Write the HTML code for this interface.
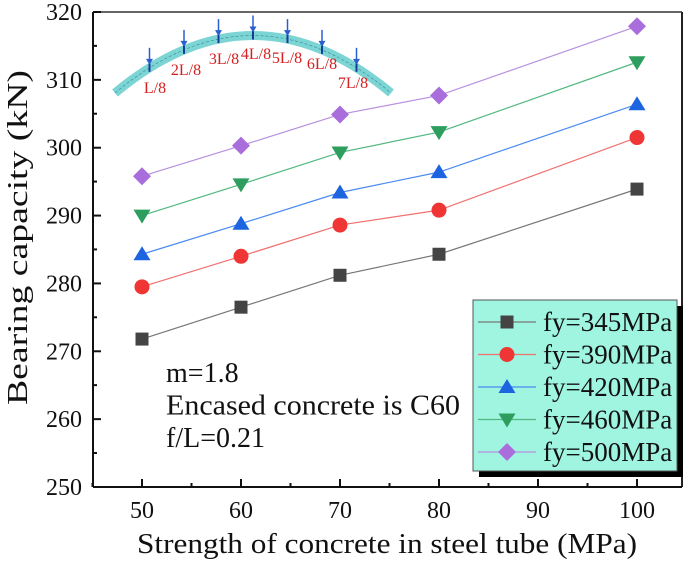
<!DOCTYPE html>
<html><head><meta charset="utf-8"><style>
body{margin:0;background:#fff}
svg text{font-family:"Liberation Serif",serif}
</style></head><body>
<svg id="c" width="685" height="560" xmlns="http://www.w3.org/2000/svg">
<g id="inset">
<path d="M115,93 Q253,-22 391,93" fill="none" stroke="#5cc9c9" stroke-width="9" opacity="0.8"/>
<path d="M115,93 Q253,-22 391,93" fill="none" stroke="#2a8f8f" stroke-width="0.6" stroke-dasharray="3,2"/>
</g>
<g id="plot"></g>
</svg>
<script>
const categories=[50,60,70,80,100];
const s345=[271.8,276.5,281.2,284.3,293.9];
const s390=[279.5,284.0,288.6,290.8,301.5];
const s420=[284.3,288.8,293.4,296.4,306.4];
const s460=[290.0,294.6,299.3,302.3,312.6];
const s500=[295.8,300.3,304.9,307.7,317.9];
const seriesNames=["fy=345MPa","fy=390MPa","fy=420MPa","fy=460MPa","fy=500MPa"];
const xTicks=[50,60,70,80,90,100];
const yTicks=[250,260,270,280,290,300,310,320];
const NS="http://www.w3.org/2000/svg";
const svg=document.getElementById('c');
const L=93,R=682,T=12,B=487;
const xs=v=>142+(v-50)*9.9;
const ys=v=>B-(v-250)*(B-T)/70;
function mk(t,a,p){const e=document.createElementNS(NS,t);for(const k in a)e.setAttribute(k,a[k]);(p||svg).appendChild(e);return e;}
const ins=document.getElementById('inset');
const archLabels=["L/8","2L/8","3L/8","4L/8","5L/8","6L/8","7L/8"];
const labPos=[[155,93],[186,75],[224,64],[256,59],[287,63],[322,69],[353,88]];
archLabels.forEach((lb,i)=>{
 const t=(i+1)/8, x=(1-t)*(1-t)*115+2*t*(1-t)*253+t*t*391, y=(1-t)*(1-t)*93+2*t*(1-t)*(-22)+t*t*93;
 mk('line',{x1:x,y1:y-20,x2:x,y2:y-4,stroke:'#2a5fd0','stroke-width':1.5},ins);
 mk('path',{d:`M${x-3.5},${y-9} L${x+3.5},${y-9} L${x},${y-3}Z`,fill:'#2a5fd0'},ins);
 mk('line',{x1:x,y1:y-4,x2:x,y2:y+4,stroke:'#1a3a9a','stroke-width':2},ins);
 const tx=mk('text',{x:labPos[i][0],y:labPos[i][1],'font-size':16,fill:'#d42020','text-anchor':'middle'},ins);
 tx.textContent=lb;
});
mk('line',{x1:L,y1:T,x2:R,y2:T,stroke:'#666','stroke-width':2});
mk('line',{x1:R,y1:T,x2:R,y2:B,stroke:'#222','stroke-width':2});
mk('line',{x1:L,y1:T,x2:L,y2:B,stroke:'#111','stroke-width':2});
mk('line',{x1:L,y1:B,x2:R,y2:B,stroke:'#111','stroke-width':2});
xTicks.forEach(v=>{const x=xs(v);
 mk('line',{x1:x,y1:B,x2:x,y2:B-8,stroke:'#111','stroke-width':2});
 if(v<100) mk('line',{x1:x+49.5,y1:B,x2:x+49.5,y2:B-4,stroke:'#111','stroke-width':2});
 const t=mk('text',{x:x,y:B+31,'font-size':24,'text-anchor':'middle',fill:'#111'});t.textContent=v;
 });
mk('line',{x1:xs(45),y1:B,x2:xs(45),y2:B-4,stroke:'#111','stroke-width':2});
yTicks.forEach(v=>{const y=ys(v);
 mk('line',{x1:L,y1:y,x2:L+8,y2:y,stroke:'#111','stroke-width':2});
 if(v<320) mk('line',{x1:L,y1:y-34,x2:L+4,y2:y-34,stroke:'#111','stroke-width':2});
 const t=mk('text',{x:L-11,y:y+8,'font-size':24,'text-anchor':'end',fill:'#111'});t.textContent=v;
 });
let t=mk('text',{x:387,y:553,'font-size':28,'text-anchor':'middle',fill:'#111',textLength:500,lengthAdjust:'spacingAndGlyphs'});t.textContent="Strength of concrete in steel tube (MPa)";

t=mk('text',{x:0,y:0,'font-size':29,'text-anchor':'middle',fill:'#111',textLength:335,lengthAdjust:'spacingAndGlyphs',transform:`translate(27,${(T+B)/2-12}) rotate(-90)`});t.textContent="Bearing capacity (kN)";

["m=1.8","Encased concrete is C60","f/L=0.21"].forEach((s,i)=>{const a=mk('text',{x:166,y:382+i*32.5,'font-size':28,fill:'#111'});a.textContent=s;
 if(i==1){a.setAttribute('textLength',294);a.setAttribute('lengthAdjust','spacingAndGlyphs');}
 });
const series=[s345,s390,s420,s460,s500];
const colors=['#444','#f03535','#1c64e0','#2e9e5e','#a96edb'];
const lineC=['#777','#f07070','#4a8af0','#50b880','#b890e0'];
function marker(k,x,y,p){
 const c=colors[k];let e;
 if(k==0)e=mk('rect',{x:x-6.5,y:y-6.5,width:13,height:13,fill:c},p);
 else if(k==1)e=mk('circle',{cx:x,cy:y,r:7.5,fill:c},p);
 else if(k==2)e=mk('path',{d:`M${x},${y-8} L${x+8.5},${y+6} L${x-8.5},${y+6}Z`,fill:c},p);
 else if(k==3)e=mk('path',{d:`M${x},${y+8} L${x+8.5},${y-6} L${x-8.5},${y-6}Z`,fill:c},p);
 else e=mk('path',{d:`M${x},${y-9} L${x+9},${y} L${x},${y+9} L${x-9},${y}Z`,fill:c},p);
 return e;}
series.forEach((s,k)=>{
 const g=mk('g',{});
 mk('polyline',{points:s.map((v,i)=>xs(categories[i])+','+ys(v)).join(' '),fill:'none',stroke:lineC[k],'stroke-width':1.2},g);
 s.forEach((v,i)=>{const m=marker(k,xs(categories[i]),ys(v),g);
  });
});
const lg=mk('g',{});
mk('rect',{x:479,y:306,width:204,height:171,fill:'#000'},lg);
mk('rect',{x:473,y:300,width:204,height:171,fill:'#9ff5e0',stroke:'#555','stroke-width':1},lg);
seriesNames.forEach((n,k)=>{const y=322+k*32.5;
 const g=mk('g',{},lg);
 mk('line',{x1:478,y1:y,x2:536,y2:y,stroke:lineC[k],'stroke-width':1.2},g);
 marker(k,507,y,g);
 const tt=mk('text',{x:543,y:y+9,'font-size':27,fill:'#111'},g);tt.textContent=n;});
</script>
</body></html>
